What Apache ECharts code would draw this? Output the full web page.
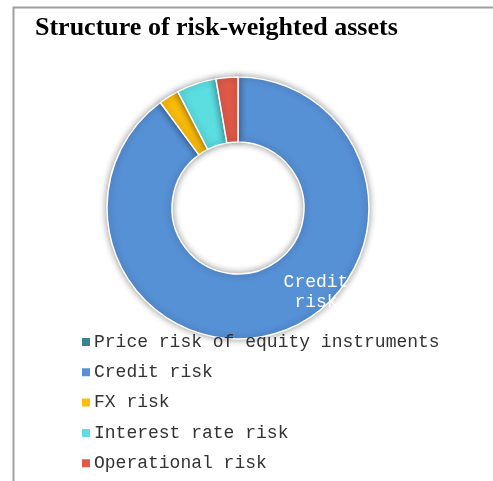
<!DOCTYPE html>
<html><head><meta charset="utf-8">
<script src="https://cdn.jsdelivr.net/npm/echarts@6/dist/echarts.min.js"></script>
<style>html,body{margin:0;padding:0;background:#fff}#c{width:493px;height:481px}</style>
</head><body><div id="c"></div>
<script>
const titleText = 'Structure of risk-weighted assets';
const categories = ['Price risk of equity instruments','Credit risk','FX risk','Interest rate risk','Operational risk'];
const values = [0.05, 89.85, 2.5, 4.9, 2.7];
const colors = ['#3b8192','#5690d5','#fbbc0a','#5cdde0','#e05a48'];

const chart = echarts.init(document.getElementById('c'), null, {renderer:'canvas'});
chart.setOption({
  animation:false,
  backgroundColor:'#fff',
  color: colors,
  graphic:[{type:'rect', shape:{x:13.5,y:7.5,width:500,height:500}, style:{fill:'none', stroke:'#a0a0a0', lineWidth:2}, z:-1}],
  title:{text:titleText, left:35, top:15, padding:0, textStyle:{fontFamily:'Liberation Serif', fontWeight:'bold', fontSize:26, color:'#000'}},
  legend:{orient:'vertical', left:80, top:333, padding:0, itemGap:12.3, itemWidth:10, itemHeight:10, icon:'rect',
    data: categories,
    textStyle:{fontFamily:'Liberation Mono', fontSize:18, color:'#333', padding:[0,0,0,-2]}},
  series:[{
    type:'pie', center:[238,208], radius:[66,131], startAngle:90, clockwise:true,
    avoidLabelOverlap:false,
    itemStyle:{borderColor:'#fff', borderWidth:1.5, shadowBlur:7, shadowColor:'rgba(0,0,0,0.4)'},
    label:{show:false},
    labelLine:{show:false},
    data: categories.map((n,i)=>({name:n, value:values[i],
      label: i===1 ? {show:true, position:'inside', formatter:'Credit\nrisk', color:'#fff', fontFamily:'Liberation Mono', fontSize:18, lineHeight:20} : {show:false}})),
    labelLayout: function(p){ return p.dataIndex===1 ? {x:316, y:292} : {}; }
  }]
});
</script></body></html>
